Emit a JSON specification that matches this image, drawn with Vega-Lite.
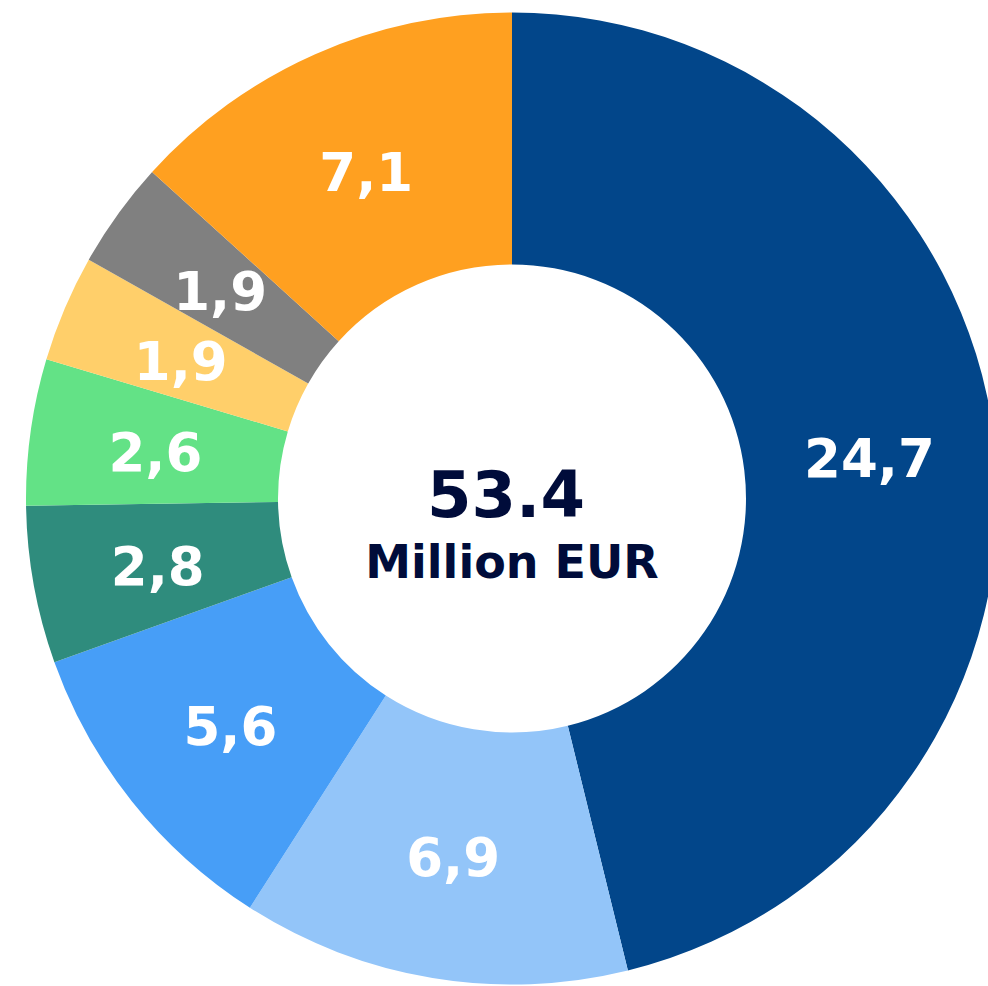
{
  "$schema": "https://vega.github.io/schema/vega-lite/v6.json",
  "width": 1024,
  "height": 997,
  "autosize": "none",
  "padding": 0,
  "background": "white",
  "view": {"stroke": null},
  "data": {
    "values": [
      {"category": "A", "value": 24.7, "label": "24,7", "order": 1},
      {"category": "B", "value": 6.9, "label": "6,9", "order": 2},
      {"category": "C", "value": 5.6, "label": "5,6", "order": 3},
      {"category": "D", "value": 2.8, "label": "2,8", "order": 4},
      {"category": "E", "value": 2.6, "label": "2,6", "order": 5},
      {"category": "F", "value": 1.9, "label": "1,9", "order": 6},
      {"category": "G", "value": 1.9, "label": "1,9", "order": 7},
      {"category": "H", "value": 7.1, "label": "7,1", "order": 8}
    ]
  },
  "layer": [
    {
      "mark": {"type": "arc", "innerRadius": 234, "outerRadius": 486},
      "encoding": {
        "theta": {"field": "value", "type": "quantitative", "stack": true},
        "order": {"field": "order", "type": "quantitative"},
        "color": {
          "field": "category",
          "type": "nominal",
          "legend": null,
          "scale": {
            "domain": ["A", "B", "C", "D", "E", "F", "G", "H"],
            "range": ["#02468A", "#93C5F9", "#479EF7", "#2F8C7D", "#63E286", "#FFCF6A", "#808080", "#FFA020"]
          }
        }
      }
    },
    {
      "mark": {"type": "text", "radius": 360, "font": "DejaVu Sans", "fontWeight": "bold", "fontSize": 53, "fill": "white", "baseline": "middle", "align": "center", "dy": 6},
      "encoding": {
        "theta": {"field": "value", "type": "quantitative", "stack": true},
        "order": {"field": "order", "type": "quantitative"},
        "text": {"field": "label", "type": "nominal"}
      }
    },
    {
      "data": {"values": [{"total": "53.4", "unit": "Million EUR"}]},
      "layer": [
        {
          "mark": {"type": "text", "font": "DejaVu Sans", "fontWeight": "bold", "fontSize": 64, "fill": "#000C3A", "baseline": "middle", "align": "center", "dy": -1, "dx": -6},
          "encoding": {"text": {"field": "total", "type": "nominal"}}
        },
        {
          "mark": {"type": "text", "font": "DejaVu Sans", "fontWeight": "bold", "fontSize": 46, "fill": "#000C3A", "baseline": "middle", "align": "center", "dy": 65},
          "encoding": {"text": {"field": "unit", "type": "nominal"}}
        }
      ]
    }
  ]
}
